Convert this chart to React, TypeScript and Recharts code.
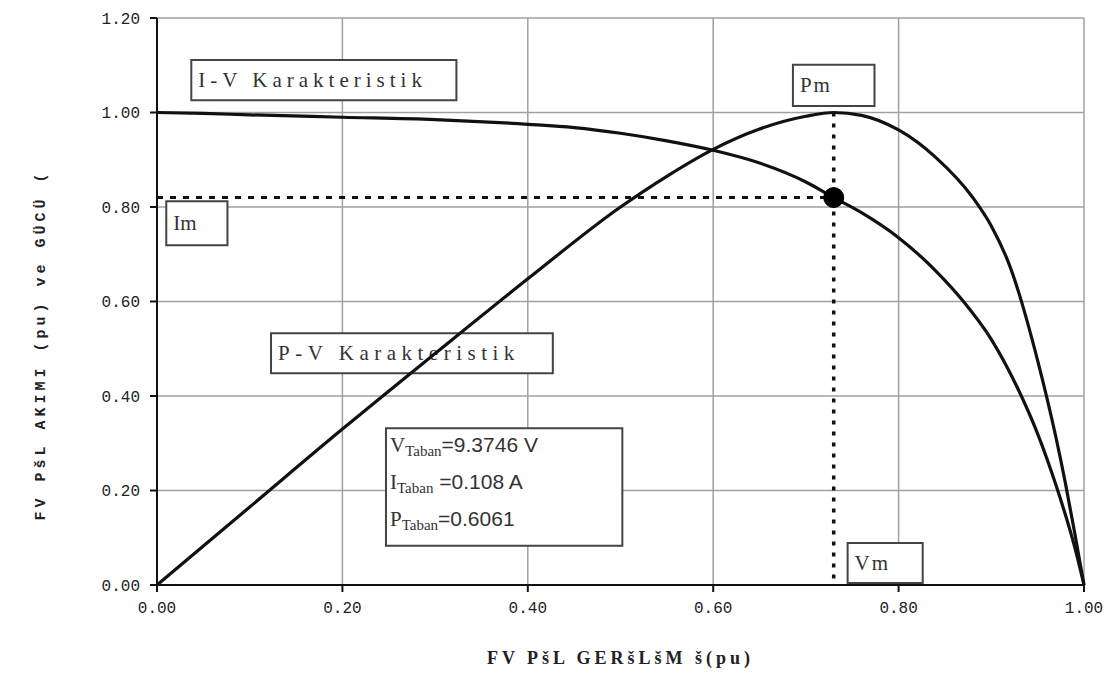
import React from 'react'
import {
  LineChart,
  Line,
  XAxis,
  YAxis,
  CartesianGrid,
  ReferenceLine,
  ReferenceDot,
  ReferenceArea,
} from 'recharts'

// I-V curve (per unit)
const ivVoltage = [0, 0.05, 0.1, 0.2, 0.3, 0.4, 0.45, 0.5, 0.55, 0.6, 0.65, 0.7, 0.73, 0.76, 0.8, 0.84, 0.87, 0.9, 0.93, 0.95, 0.97, 0.99, 1.0]
const ivCurrent = [1.0, 0.998, 0.995, 0.99, 0.985, 0.975, 0.968, 0.956, 0.94, 0.92, 0.893, 0.853, 0.82, 0.788, 0.735, 0.665, 0.6, 0.52, 0.41, 0.32, 0.21, 0.08, 0.0]

// P-V curve (per unit)
const pvVoltage = [0, 0.1, 0.2, 0.3, 0.4, 0.5, 0.55, 0.6, 0.65, 0.7, 0.73, 0.76, 0.8, 0.84, 0.88, 0.9, 0.92, 0.95, 0.97, 0.98, 0.99, 1.0]
const pvPower = [0, 0.165, 0.33, 0.49, 0.648, 0.8, 0.865, 0.922, 0.965, 0.992, 1.0, 0.994, 0.963, 0.905, 0.82, 0.76, 0.675, 0.475, 0.31, 0.215, 0.11, 0.0]

const xTicks = [0, 0.2, 0.4, 0.6, 0.8, 1.0]
const yTicks = [0, 0.2, 0.4, 0.6, 0.8, 1.0, 1.2]

// maximum power point
const vm = 0.73
const im = 0.82

const tabanLines = [
  { sym: 'V', sub: 'Taban', value: '=9.3746 V' },
  { sym: 'I', sub: 'Taban', value: ' =0.108 A' },
  { sym: 'P', sub: 'Taban', value: '=0.6061' },
]

const ivData = ivVoltage.map((v, i) => ({ v, y: ivCurrent[i] }))
const pvData = pvVoltage.map((v, i) => ({ v, y: pvPower[i] }))

const serif = '"Liberation Serif", "DejaVu Serif", serif'
const mono = '"Liberation Mono", "DejaVu Sans Mono", monospace'
const sans = '"Liberation Sans", Arial, sans-serif'

function boxText(text: string, spacing: number) {
  return (props: any) => {
    const vb = props.viewBox
    if (!vb) return null
    return (
      <text
        x={vb.x + 7}
        y={vb.y + vb.height / 2 + 7}
        fontFamily={serif}
        fontSize={21}
        letterSpacing={spacing}
        fill="#333"
      >
        {text}
      </text>
    )
  }
}

function TabanLabel(props: any) {
  const vb = props.viewBox
  if (!vb) return null
  return (
    <g>
      {tabanLines.map((l, i) => (
        <text key={l.sym} x={vb.x + 4} y={vb.y + 24 + i * 37} fill="#333">
          <tspan fontFamily={serif} fontSize={21}>{l.sym}</tspan>
          <tspan fontFamily={serif} fontSize={15} dy={4}>{l.sub}</tspan>
          <tspan fontFamily={sans} fontSize={21} dy={-4}>{l.value}</tspan>
        </text>
      ))}
    </g>
  )
}

function XTitle(props: any) {
  const vb = props.viewBox
  return (
    <text
      x={vb.x + vb.width / 2}
      y={664}
      textAnchor="middle"
      fontFamily={serif}
      fontWeight="bold"
      fontSize={18}
      letterSpacing={4}
      fill="#222"
    >
      FV PšL GERšLšM š(pu)
    </text>
  )
}

function YTitle() {
  return (
    <text
      x={0}
      y={0}
      transform="translate(45,345) rotate(-90)"
      textAnchor="middle"
      fontFamily={mono}
      fontWeight="bold"
      fontSize={15}
      letterSpacing={4}
      fill="#222"
    >
      FV PšL AKIMI (pu) ve GÜCÜ (
    </text>
  )
}

export default function App() {
  const box = { fill: '#fff', fillOpacity: 1, stroke: '#444', strokeWidth: 2, ifOverflow: 'visible' as const }
  return (
    <div style={{ position: 'absolute', left: 0, top: 0, width: 1109, height: 675, background: '#fff' }}>
      <LineChart width={1109} height={675} margin={{ top: 18, right: 25, bottom: 0, left: 0 }}>
        <CartesianGrid stroke="#a0a0a0" strokeWidth={1.5} />
        <XAxis
          type="number"
          dataKey="v"
          domain={[0, 1]}
          ticks={xTicks}
          tickFormatter={(t: number) => t.toFixed(2)}
          height={90}
          stroke="#111"
          strokeWidth={2}
          tickSize={7}
          tickMargin={10}
          tick={{ fontFamily: mono, fontSize: 16, fill: '#222' }}
          label={<XTitle />}
        />
        <YAxis
          type="number"
          domain={[0, 1.2]}
          ticks={yTicks}
          tickFormatter={(t: number) => t.toFixed(2)}
          width={157}
          stroke="#111"
          strokeWidth={2}
          tickSize={7}
          tickMargin={10}
          tick={{ fontFamily: mono, fontSize: 16, fill: '#222' }}
          label={<YTitle />}
        />
        <ReferenceLine
          segment={[{ x: 0, y: im }, { x: vm, y: im }]}
          stroke="#111"
          strokeWidth={3}
          strokeDasharray="6 7"
        />
        <ReferenceLine
          segment={[{ x: vm, y: 1.0 }, { x: vm, y: 0 }]}
          stroke="#111"
          strokeWidth={3.5}
          strokeDasharray="4 7"
        />
        <Line data={ivData} dataKey="y" type="monotone" stroke="#111" strokeWidth={3.2} dot={false} isAnimationActive={false} />
        <Line data={pvData} dataKey="y" type="monotone" stroke="#111" strokeWidth={3.2} dot={false} isAnimationActive={false} />
        <ReferenceDot x={vm} y={im} r={10} fill="#000" stroke="#000" />
        <ReferenceArea x1={0.037} x2={0.323} y1={1.026} y2={1.111} {...box} label={boxText('I-V Karakteristik', 5)} />
        <ReferenceArea x1={0.686} x2={0.774} y1={1.014} y2={1.101} {...box} label={boxText('Pm', 2)} />
        <ReferenceArea x1={0.01} x2={0.076} y1={0.719} y2={0.812} {...box} label={boxText('Im', 0)} />
        <ReferenceArea x1={0.123} x2={0.427} y1={0.448} y2={0.533} {...box} label={boxText('P-V Karakteristik', 5.5)} />
        <ReferenceArea x1={0.247} x2={0.502} y1={0.083} y2={0.332} {...box} label={<TabanLabel />} />
        <ReferenceArea x1={0.745} x2={0.826} y1={0.004} y2={0.089} {...box} label={boxText('Vm', 2)} />
      </LineChart>
    </div>
  )
}
